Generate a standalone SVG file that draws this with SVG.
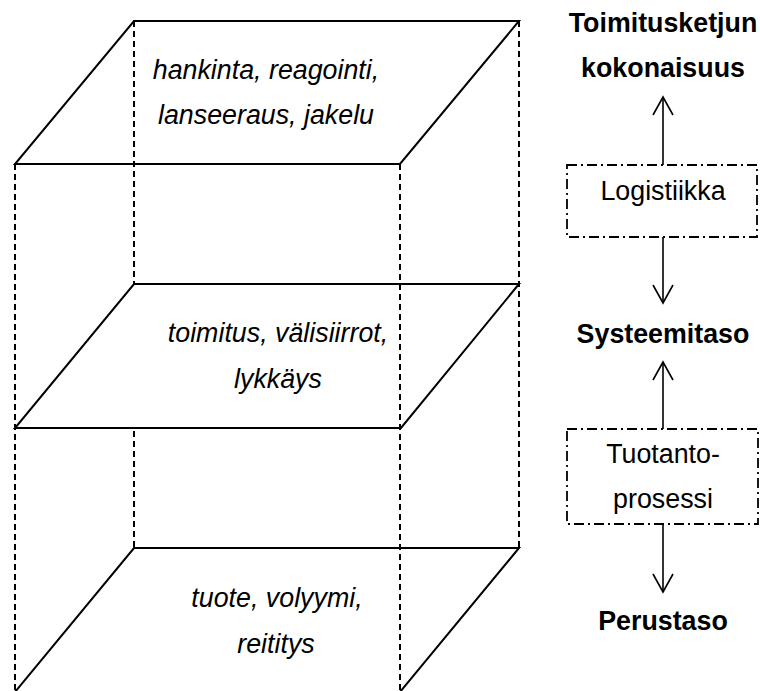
<svg xmlns="http://www.w3.org/2000/svg" width="760" height="691" viewBox="0 0 760 691">
<style>
.plane{fill:#fff;stroke:#000;stroke-width:2;stroke-linejoin:miter}
.dash{fill:none;stroke:#000;stroke-width:2;stroke-dasharray:6 4}
.dd{fill:#fff;stroke:#000;stroke-width:1.8;stroke-dasharray:10 4 2 4}
.ln{fill:none;stroke:#000;stroke-width:1.6}
.it{font-family:"Liberation Sans",Arial,sans-serif;font-style:italic;font-size:26.8px;text-anchor:middle;fill:#000}
.rg{font-family:"Liberation Sans",Arial,sans-serif;font-size:26.8px;text-anchor:middle;fill:#000}
.bd{font-family:"Liberation Sans",Arial,sans-serif;font-weight:bold;font-size:26.8px;text-anchor:middle;fill:#000}
</style>
<defs>
<marker id="open" markerWidth="24" markerHeight="24" refX="19" refY="11" orient="auto" markerUnits="userSpaceOnUse">
<path d="M1,1 L19,11 L1,21" fill="none" stroke="#000" stroke-width="1.6"/>
</marker>
</defs>
<rect width="760" height="691" fill="#fff"/>
<g id="plane-bottom">
<polygon class="plane" points="134,548 519,548 400,692 15,692"/>
<text class="it" x="277" y="607">tuote, volyymi,</text>
<text class="it" x="276" y="653">reititys</text>
</g>
<g id="back-left-edge">
<line class="dash" x1="134" y1="21" x2="134" y2="548"/>
</g>
<g id="plane-middle">
<polygon class="plane" points="134,284 519,284 401,428 15,428"/>
<text class="it" x="278" y="342">toimitus, välisiirrot,</text>
<text class="it" x="278" y="388">lykkäys</text>
</g>
<g id="plane-top">
<polygon class="plane" points="134,21 519,21 400,164 15,164"/>
<text class="it" x="266" y="79">hankinta, reagointi,</text>
<text class="it" x="266" y="124">lanseeraus, jakelu</text>
</g>
<g id="edges">
<line class="dash" x1="134" y1="21" x2="134" y2="164"/>
<line class="dash" x1="519" y1="21" x2="519" y2="548"/>
<line class="dash" x1="15" y1="164" x2="15" y2="691"/>
<line class="dash" x1="400" y1="164" x2="400" y2="691"/>
</g>
<g id="connectors">
<line class="ln" x1="663" y1="165" x2="663" y2="97" marker-end="url(#open)"/>
<line class="ln" x1="663" y1="237" x2="663" y2="303" marker-end="url(#open)"/>
<line class="ln" x1="663" y1="429" x2="663" y2="362" marker-end="url(#open)"/>
<line class="ln" x1="663" y1="524" x2="663" y2="592" marker-end="url(#open)"/>
</g>
<g id="label-kokonaisuus">
<text class="bd" x="663" y="32">Toimitusketjun</text>
<text class="bd" x="663" y="77">kokonaisuus</text>
</g>
<g id="box-logistiikka">
<rect class="dd" x="567" y="165" width="190" height="72"/>
<text class="rg" x="663" y="200">Logistiikka</text>
</g>
<g id="label-systeemitaso">
<text class="bd" x="663" y="343">Systeemitaso</text>
</g>
<g id="box-tuotantoprosessi">
<rect class="dd" x="567" y="429" width="191" height="95"/>
<text class="rg" x="663" y="463">Tuotanto-</text>
<text class="rg" x="663" y="508">prosessi</text>
</g>
<g id="label-perustaso">
<text class="bd" x="663" y="630">Perustaso</text>
</g>
</svg>
